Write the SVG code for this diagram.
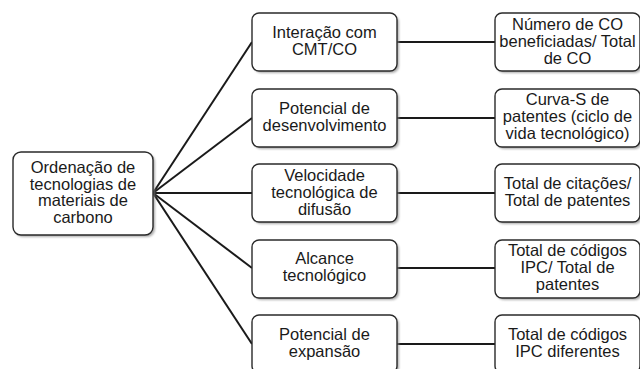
<svg xmlns="http://www.w3.org/2000/svg" width="640" height="369" viewBox="0 0 640 369">
<defs>
<filter id="sh" x="-10%" y="-10%" width="130%" height="140%">
<feGaussianBlur stdDeviation="1.2"/>
</filter>
</defs>
<style>
.box{fill:#fff;stroke:#2a2a2a;stroke-width:1.4}
.shadow{fill:#8a8a8a;opacity:0.7;filter:url(#sh)}
.t{font-family:"Liberation Sans",Arial,sans-serif;font-size:16.5px;fill:#1a1a1a;text-anchor:middle}
.c{stroke:#1a1a1a;stroke-width:2;fill:none}
</style>
<rect width="640" height="369" fill="#fff"/>
<g id="connectors">
<line class="c" x1="153" y1="193" x2="252" y2="42"/>
<line class="c" x1="153" y1="193" x2="252" y2="118"/>
<line class="c" x1="153" y1="193" x2="252" y2="193"/>
<line class="c" x1="153" y1="193" x2="252" y2="268"/>
<line class="c" x1="153" y1="193" x2="252" y2="344"/>
<line class="c" x1="397" y1="42" x2="495" y2="42"/>
<line class="c" x1="397" y1="118" x2="495" y2="118"/>
<line class="c" x1="397" y1="193" x2="495" y2="193"/>
<line class="c" x1="397" y1="268" x2="495" y2="268"/>
<line class="c" x1="397" y1="344" x2="495" y2="344"/>
</g>
<g id="root">
<rect class="shadow" x="15" y="154" width="140" height="83" rx="8"/>
<rect class="box" x="13" y="152" width="140" height="83" rx="8"/>
<text class="t" x="83" y="173">Ordenação de</text>
<text class="t" x="83" y="189.5">tecnologias de</text>
<text class="t" x="83" y="206">materiais de</text>
<text class="t" x="83" y="222.5">carbono</text>
</g>
<g id="m1">
<rect class="shadow" x="254" y="15" width="145" height="58" rx="7"/>
<rect class="box" x="252" y="13" width="145" height="58" rx="7"/>
<text class="t" x="324.5" y="38">Interação com</text>
<text class="t" x="324.5" y="55">CMT/CO</text>
</g>
<g id="m2">
<rect class="shadow" x="254" y="91" width="145" height="58" rx="7"/>
<rect class="box" x="252" y="89" width="145" height="58" rx="7"/>
<text class="t" x="324.5" y="114">Potencial de</text>
<text class="t" x="324.5" y="131">desenvolvimento</text>
</g>
<g id="m3">
<rect class="shadow" x="254" y="166" width="145" height="58" rx="7"/>
<rect class="box" x="252" y="164" width="145" height="58" rx="7"/>
<text class="t" x="324.5" y="181">Velocidade</text>
<text class="t" x="324.5" y="198">tecnológica de</text>
<text class="t" x="324.5" y="215">difusão</text>
</g>
<g id="m4">
<rect class="shadow" x="254" y="242" width="145" height="58" rx="7"/>
<rect class="box" x="252" y="240" width="145" height="58" rx="7"/>
<text class="t" x="324.5" y="264">Alcance</text>
<text class="t" x="324.5" y="281">tecnológico</text>
</g>
<g id="m5">
<rect class="shadow" x="254" y="317" width="145" height="58" rx="7"/>
<rect class="box" x="252" y="315" width="145" height="58" rx="7"/>
<text class="t" x="324.5" y="340">Potencial de</text>
<text class="t" x="324.5" y="357">expansão</text>
</g>
<g id="r1">
<rect class="shadow" x="497" y="15" width="145" height="58" rx="7"/>
<rect class="box" x="495" y="13" width="145" height="58" rx="7"/>
<text class="t" x="567.5" y="30">Número de CO</text>
<text class="t" x="567.5" y="47">beneficiadas/ Total</text>
<text class="t" x="567.5" y="64">de CO</text>
</g>
<g id="r2">
<rect class="shadow" x="497" y="91" width="145" height="58" rx="7"/>
<rect class="box" x="495" y="89" width="145" height="58" rx="7"/>
<text class="t" x="567.5" y="105">Curva-S de</text>
<text class="t" x="567.5" y="122">patentes (ciclo de</text>
<text class="t" x="567.5" y="139">vida tecnológico)</text>
</g>
<g id="r3">
<rect class="shadow" x="497" y="166" width="145" height="58" rx="7"/>
<rect class="box" x="495" y="164" width="145" height="58" rx="7"/>
<text class="t" x="567.5" y="189">Total de citações/</text>
<text class="t" x="567.5" y="206">Total de patentes</text>
</g>
<g id="r4">
<rect class="shadow" x="497" y="242" width="145" height="58" rx="7"/>
<rect class="box" x="495" y="240" width="145" height="58" rx="7"/>
<text class="t" x="567.5" y="256">Total de códigos</text>
<text class="t" x="567.5" y="273">IPC/ Total de</text>
<text class="t" x="567.5" y="290">patentes</text>
</g>
<g id="r5">
<rect class="shadow" x="497" y="317" width="145" height="58" rx="7"/>
<rect class="box" x="495" y="315" width="145" height="58" rx="7"/>
<text class="t" x="567.5" y="340">Total de códigos</text>
<text class="t" x="567.5" y="357">IPC diferentes</text>
</g>
</svg>
